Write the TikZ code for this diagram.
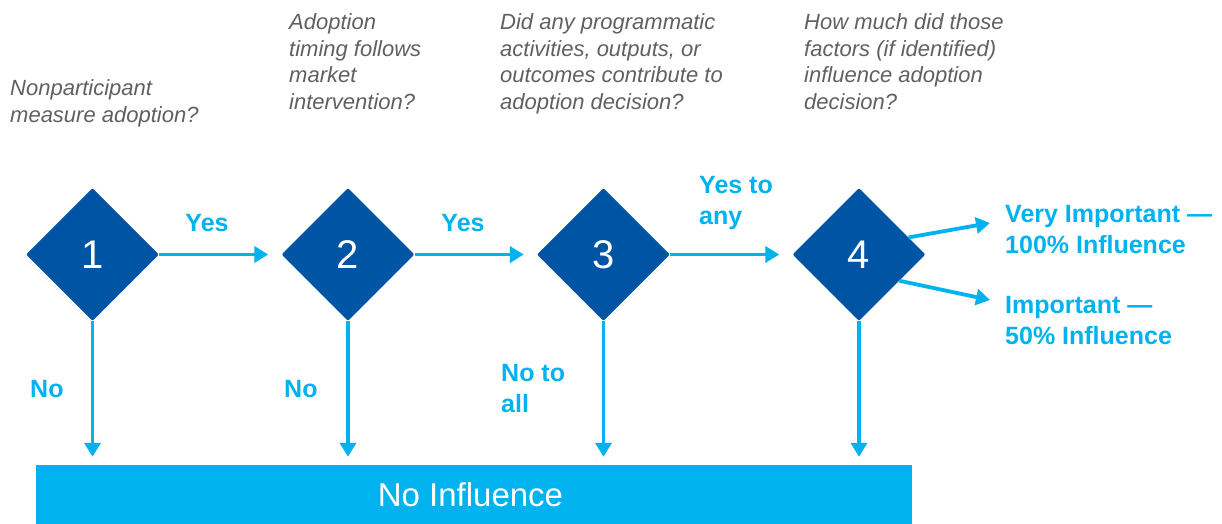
\documentclass[tikz,border=0pt]{standalone}
\usepackage{fontspec}
\setmainfont{Liberation Sans}
\usetikzlibrary{shapes.geometric,arrows.meta}
\definecolor{deepblue}{HTML}{0054A4}
\definecolor{skyblue}{HTML}{00B2EE}
\definecolor{qgray}{HTML}{606060}
\begin{document}
\begin{tikzpicture}[x=1pt,y=-1pt,
  decision/.style={diamond, aspect=1, fill=deepblue, minimum width=133pt,
    minimum height=133pt, inner sep=0pt, rounded corners=2pt, text=white,
    font=\fontsize{40}{40}\selectfont},
  flow/.style={draw=skyblue, line width=3.8pt,
    -{Triangle[width=16pt,length=14pt]}},
  answer/.style={text=skyblue, font=\fontsize{25}{31}\selectfont\bfseries,
    inner sep=0pt, align=left},
  question/.style={text=qgray, font=\fontsize{22}{26.6}\selectfont\itshape,
    inner sep=0pt, align=left, anchor=north west},
  outcome/.style={fill=skyblue, text=white, minimum width=876pt,
    minimum height=60pt, inner sep=0pt, font=\fontsize{33}{33}\selectfont}
]
\useasboundingbox (0,0) rectangle (1222,524);

% questions above each decision
\node[question] (q1) at (10,79.5) {Nonparticipant\\measure adoption?};
\node[question] (q2) at (289,13.5) {Adoption\\timing follows\\market\\intervention?};
\node[question] (q3) at (500,13.5) {Did any programmatic\\activities, outputs, or\\outcomes contribute to\\adoption decision?};
\node[question] (q4) at (804,13.5) {How much did those\\factors (if identified)\\influence adoption\\decision?};

% decisions
\node[decision] (d1) at (92.5,254.5) {1};
\node[decision] (d2) at (348,254.5) {2};
\node[decision] (d3) at (603.5,254.5) {3};
\node[decision] (d4) at (859,254.5) {4};

% final outcome bar
\node[outcome] (noinf) at (474,495) {No Influence\kern7pt};

% yes branches
\draw[flow, shorten >=13pt] (d1.east) -- (d2.west);
\draw[flow, shorten >=13pt] (d2.east) -- (d3.west);
\draw[flow, shorten >=13pt] (d3.east) -- (d4.west);

% no branches
\draw[flow, shorten >=8pt] (d1.south) -- (d1.south |- noinf.north);
\draw[flow, shorten >=8pt] (d2.south) -- (d2.south |- noinf.north);
\draw[flow, shorten >=8pt] (d3.south) -- (d3.south |- noinf.north);
\draw[flow, shorten >=8pt] (d4.south) -- (d4.south |- noinf.north);

% importance branches
\coordinate (vimp) at (990,223);
\coordinate (imp) at (990,300);
\draw[flow] (d4.19) -- (vimp);
\draw[flow] (d4.-33) -- (imp);

% branch labels
\node[answer, anchor=base] (y1) at (207,231) {Yes};
\node[answer, anchor=base] (y2) at (463,231) {Yes};
\node[answer, anchor=north west] (y3) at (699,176) {Yes to\\any};
\node[answer, anchor=base west] (n1) at (30,397) {No};
\node[answer, anchor=base west] (n2) at (284,397) {No};
\node[answer, anchor=north west] (n3) at (501,364) {No to\\all};
\node[answer, anchor=north west] (l1) at (1005,205) {Very Important ---\\100\% Influence};
\node[answer, anchor=north west] (l2) at (1005,296) {Important ---\\50\% Influence};
\end{tikzpicture}
\end{document}
